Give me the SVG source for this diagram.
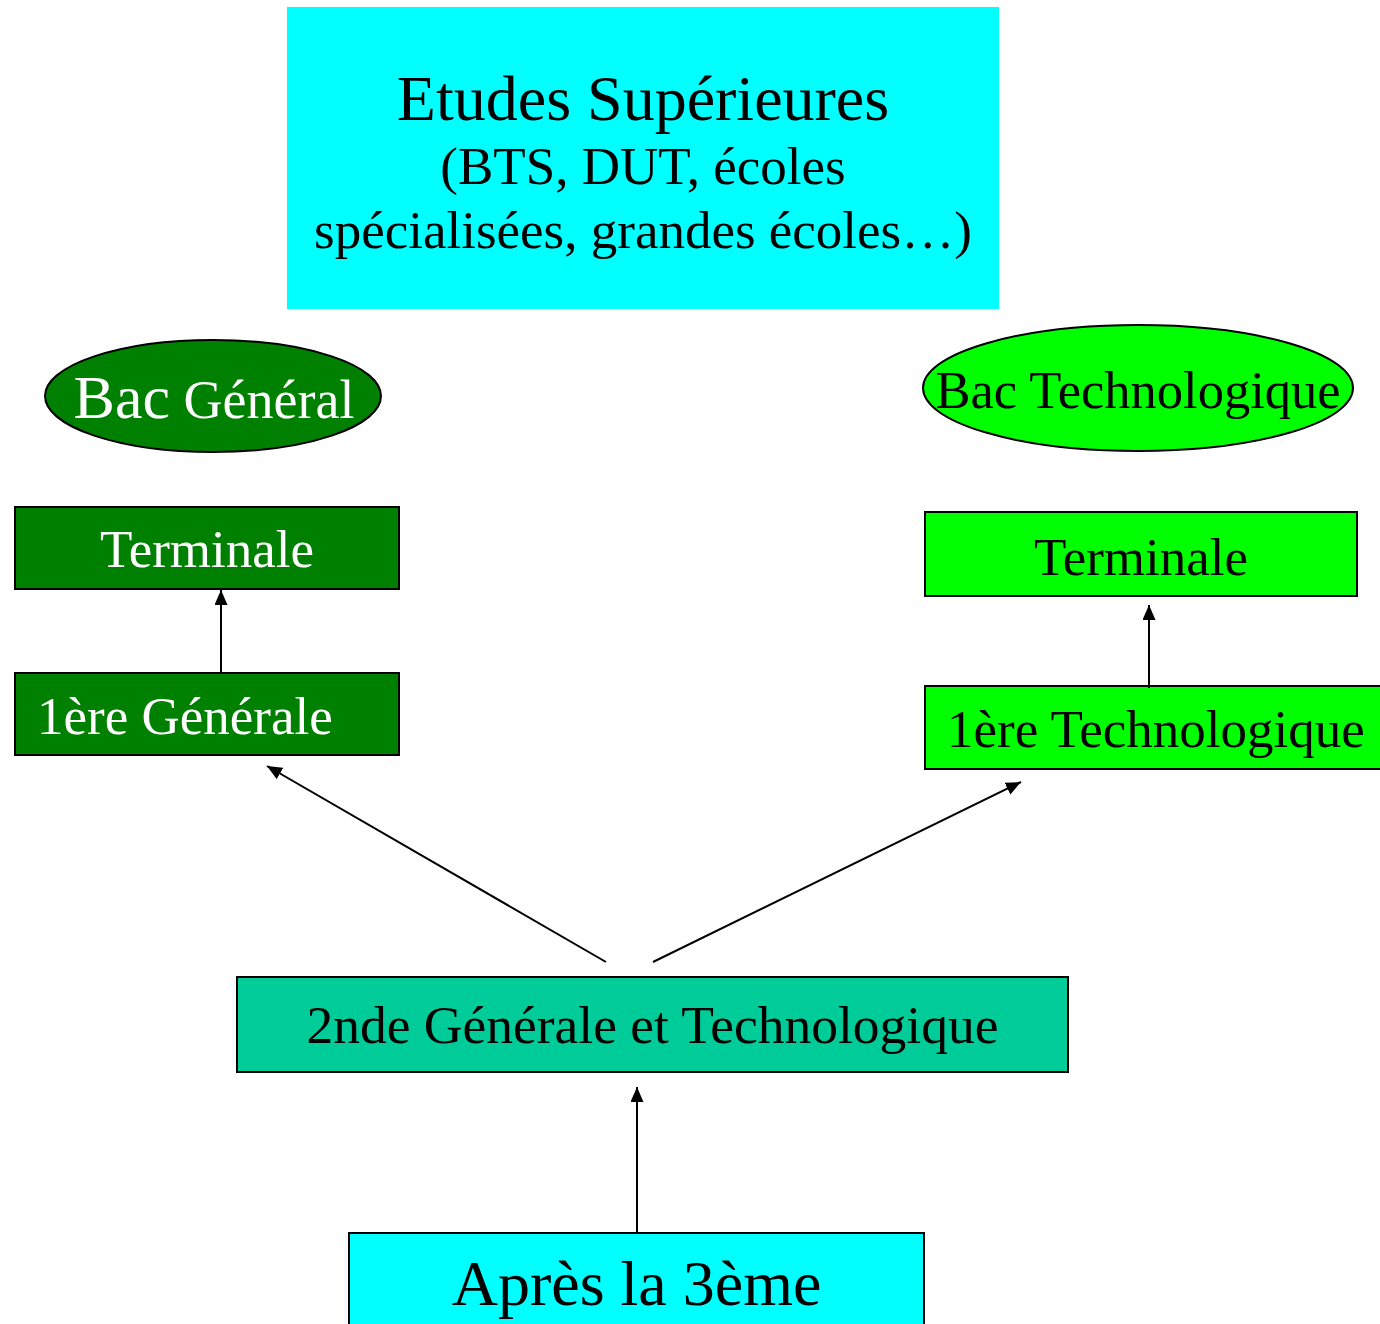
<svg xmlns="http://www.w3.org/2000/svg" width="1380" height="1324" viewBox="0 0 1380 1324">
<style>
text{font-family:"Liberation Serif","Times New Roman",serif;font-size:53px;fill:#000}
.w{fill:#fff}
.box{stroke:#000;stroke-width:2}
.conn line{stroke:#000;stroke-width:2;marker-end:url(#ah)}
</style>
<defs>
<marker id="ah" markerUnits="userSpaceOnUse" markerWidth="16" markerHeight="14" refX="15" refY="6.5" orient="auto">
<path d="M0,0 L15,6.5 L0,13 Z" fill="#000"/>
</marker>
</defs>
<rect width="1380" height="1324" fill="#fff"/>
<g id="etudes">
<rect x="287" y="7" width="712" height="302" fill="#00FFFF"/>
<text x="643" y="120" text-anchor="middle" style="font-size:64px">Etudes Supérieures</text>
<text x="643" y="184" text-anchor="middle" style="font-size:53px">(BTS, DUT, écoles</text>
<text x="643" y="248" text-anchor="middle" style="font-size:53px">spécialisées, grandes écoles…)</text>
</g>
<g id="bac-general">
<ellipse cx="213" cy="396" rx="168" ry="56" fill="#008000" class="box"/>
<text x="214" y="418" text-anchor="middle" class="w" style="font-size:54px"><tspan style="font-size:62px">Bac</tspan> Général</text>
</g>
<g id="bac-techno">
<ellipse cx="1138" cy="388" rx="215" ry="63" fill="#00FF00" class="box"/>
<text x="1138" y="408" text-anchor="middle" style="font-size:52.5px">Bac Technologique</text>
</g>
<g id="terminale-g">
<rect x="15" y="507" width="384" height="82" fill="#008000" class="box"/>
<text x="207" y="567" text-anchor="middle" class="w">Terminale</text>
</g>
<g id="premiere-g">
<rect x="15" y="673" width="384" height="82" fill="#008000" class="box"/>
<text x="37" y="734" class="w">1ère Générale</text>
</g>
<g id="terminale-t">
<rect x="925" y="512" width="432" height="84" fill="#00FF00" class="box"/>
<text x="1141" y="575" text-anchor="middle">Terminale</text>
</g>
<g id="premiere-t">
<rect x="925" y="686" width="460" height="83" fill="#00FF00" class="box"/>
<text x="947" y="747">1ère Technologique</text>
</g>
<g id="seconde">
<rect x="237" y="977" width="831" height="95" fill="#00CC99" class="box"/>
<text x="652.5" y="1043" text-anchor="middle" style="font-size:53.5px">2nde Générale et Technologique</text>
</g>
<g id="apres3">
<rect x="349" y="1233" width="575" height="100" fill="#00FFFF" class="box"/>
<text x="636.5" y="1305" text-anchor="middle" style="font-size:64px">Après la 3ème</text>
</g>
<g class="conn" id="connectors">
<line x1="221" y1="673" x2="221" y2="590"/>
<line x1="1149" y1="688" x2="1149" y2="605"/>
<line x1="606" y1="962" x2="267" y2="766"/>
<line x1="653" y1="962" x2="1021" y2="782"/>
<line x1="637" y1="1233" x2="637" y2="1087"/>
</g>
</svg>
